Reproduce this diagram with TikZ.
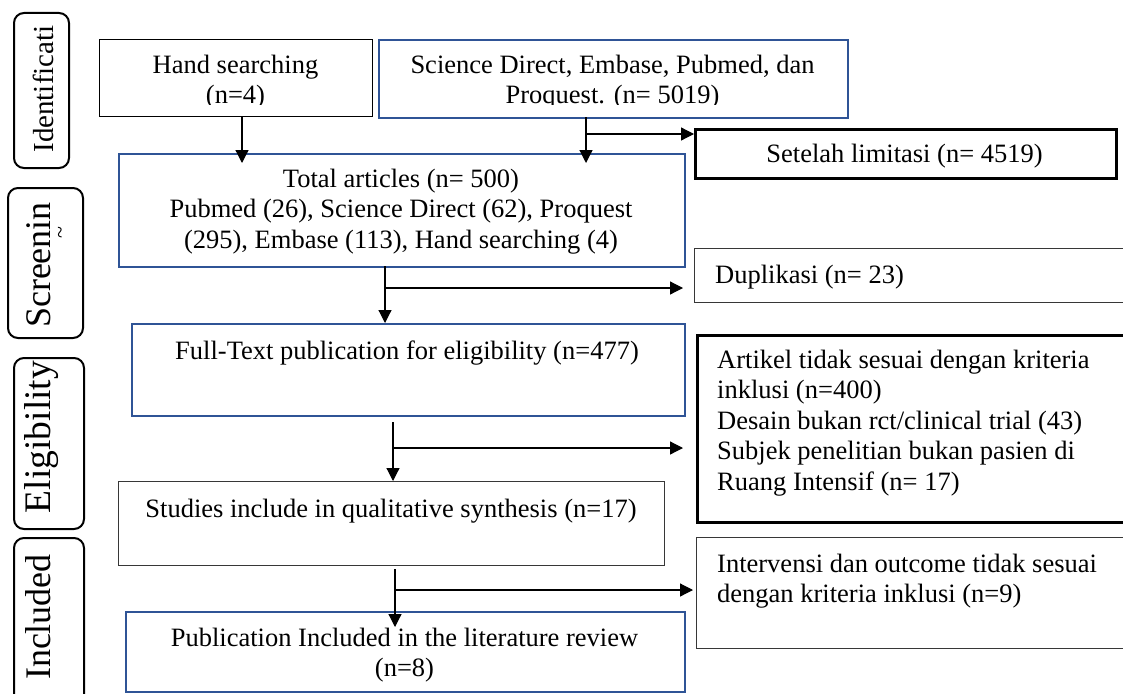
\documentclass[tikz,border=0pt]{standalone}
\usepackage{fontspec}
\setmainfont{Liberation Serif}
\usetikzlibrary{arrows.meta}
\definecolor{pblue}{RGB}{47,84,150}
\definecolor{dgray}{RGB}{55,55,55}
\begin{document}
\begin{tikzpicture}[x=1pt,y=-1pt,
  box/.style={draw, rectangle, inner sep=0pt, anchor=north west, line width=1.2pt},
  bluebox/.style={box, draw=pblue, line width=2.2pt},
  thickbox/.style={box, line width=2.6pt},
  graybox/.style={box, draw=dgray, line width=1.3pt},
  lab/.style={draw, rectangle, rounded corners=10pt, line width=2pt, anchor=north west, inner sep=0pt},
  txt/.style={inner sep=0pt, anchor=base, font=\fontsize{26.5}{30.5}\selectfont},
  ltxt/.style={txt, anchor=base west},
  vtxt/.style={inner sep=0pt, anchor=base, rotate=90},
  arr/.style={line width=1.2pt, -{Triangle[length=13pt,width=13pt]}},
  ln/.style={line width=1.2pt}]
\clip (0,0) rectangle (1123,693);
\fill[white] (0,0) rectangle (1123,693);

% stage labels
\node[lab, minimum width=55pt, minimum height=155pt] (Lid) at (13,12) {};
\node[vtxt, font=\fontsize{29}{30}\selectfont] (tid) at (53,89) {Identificati};
\node[lab, minimum width=75pt, minimum height=150pt] (Lsc) at (7,187) {};
\node[vtxt, font=\fontsize{36}{36}\selectfont] (tsc) at (50,265) {Screenin};
\node[vtxt, font=\fontsize{22}{22}\selectfont] (tsc2) at (67,233) {\textasciitilde};
\node[lab, minimum width=70pt, minimum height=171pt] (Lel) at (13,357) {};
\node[vtxt, font=\fontsize{37.5}{38}\selectfont] (tel) at (50,437) {Eligibility};
\node[lab, minimum width=70pt, minimum height=175pt] (Lin) at (13,537) {};
\node[vtxt, font=\fontsize{36}{36}\selectfont] (tin) at (50,617) {Included};

% boxes
\node[box, minimum width=273pt, minimum height=77pt] (hand) at (99,39) {};
\node[bluebox, minimum width=469pt, minimum height=78pt] (sci) at (378,39) {};
\node[bluebox, minimum width=566pt, minimum height=113pt] (total) at (118,153) {};
\node[thickbox, minimum width=421pt, minimum height=49pt] (setelah) at (694,128) {};
\node[graybox, minimum width=460pt, minimum height=54pt] (dup) at (694,248) {};
\node[bluebox, minimum width=553pt, minimum height=92pt] (full) at (131,323) {};
\node[thickbox, minimum width=460pt, minimum height=187pt] (art) at (696,334) {};
\node[graybox, minimum width=546pt, minimum height=84pt] (stud) at (118,481) {};
\node[graybox, minimum width=460pt, minimum height=111pt] (interv) at (696,537) {};
\node[bluebox, minimum width=559pt, minimum height=80pt] (pub) at (125,611) {};

% texts
\begin{scope}
\clip (99,39) rectangle (847,104);
\node[txt] (th1) at (235.5,73) {Hand searching};
\node[txt] (th2) at (235.5,103.5) {(n=4)};
\node[txt] (ts1) at (612.5,73) {Science Direct, Embase, Pubmed, dan};
\node[txt] (ts2) at (612.5,103.5) {Proquest. (n= 5019)};
\end{scope}
\node[txt] (tt1) at (401,187) {Total articles (n= 500)};
\node[txt] (tt2) at (401,217.5) {Pubmed (26), Science Direct (62), Proquest};
\node[txt] (tt3) at (401,248) {(295), Embase (113), Hand searching (4)};
\node[txt] (tset) at (904.5,162) {Setelah limitasi (n= 4519)};
\node[ltxt] (tdup) at (715,283) {Duplikasi (n= 23)};
\node[txt] (tfull) at (407,359) {Full-Text publication for eligibility (n=477)};
\node[ltxt] (ta1) at (717,368) {Artikel tidak sesuai dengan kriteria};
\node[ltxt] (ta2) at (717,398.5) {inklusi (n=400)};
\node[ltxt] (ta3) at (717,429) {Desain bukan rct/clinical trial (43)};
\node[ltxt] (ta4) at (717,459.5) {Subjek penelitian bukan pasien di};
\node[ltxt] (ta5) at (717,490) {Ruang Intensif (n= 17)};
\node[txt] (tstud) at (391,517) {Studies include in qualitative synthesis (n=17)};
\node[ltxt] (ti1) at (717,572) {Intervensi dan outcome tidak sesuai};
\node[ltxt] (ti2) at (717,602) {dengan kriteria inklusi (n=9)};
\node[txt] (tp1) at (404.5,646) {Publication Included in the literature review};
\node[txt] (tp2) at (404.5,676) {(n=8)};

% connectors
\coordinate (h0) at (242,116);
\draw[arr] (h0) -- ([yshift=-10pt]h0 |- total.north);

\coordinate (s0) at (586,117);
\coordinate (s1) at (586,134);
\draw[arr] (s0) -- ([yshift=-10pt]s0 |- total.north);
\draw[arr] (s1) -- (s1 -| setelah.west);

\coordinate (t0) at (385,266);
\coordinate (t1) at (385,288);
\coordinate (t2) at (683,288);
\draw[arr] (t0) -- (t0 |- full.north);
\draw[arr] (t1) -- (t2);

\coordinate (f0) at (393,422);
\coordinate (f1) at (393,448);
\coordinate (f2) at (683,448);
\draw[arr] (f0) -- (f0 |- stud.north);
\draw[arr] (f1) -- (f2);

\coordinate (u0) at (395,569);
\coordinate (u1) at (395,590);
\coordinate (u2) at (693,590);
\draw[arr] (u0) -- ([yshift=-16pt]u0 |- pub.north);
\draw[arr] (u1) -- (u2);
\end{tikzpicture}
\end{document}
